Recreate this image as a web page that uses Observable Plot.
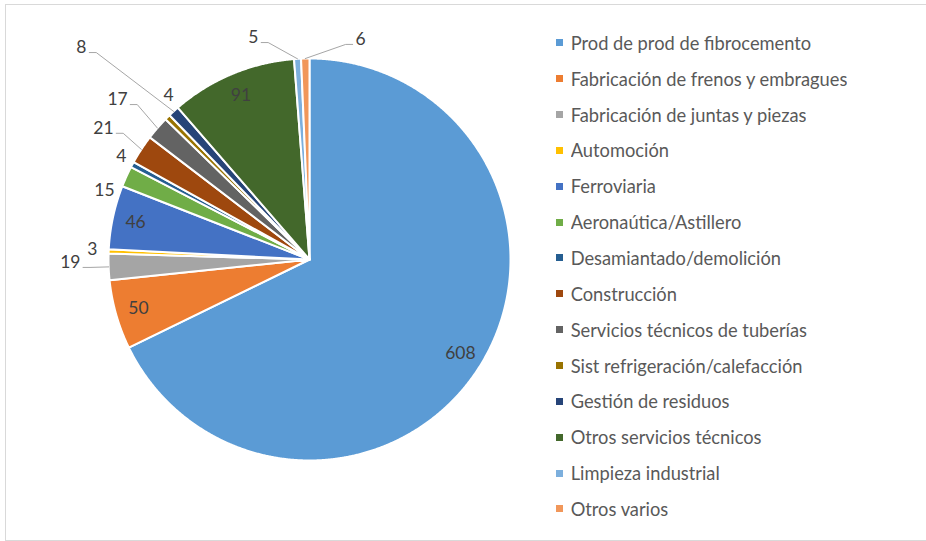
<!DOCTYPE html>
<html><head><meta charset="utf-8">
<script src="https://cdn.jsdelivr.net/npm/d3@7"></script>
<script src="https://cdn.jsdelivr.net/npm/@observablehq/plot@0.6"></script>
<style>
html,body{margin:0;padding:0;background:#fff;overflow:hidden;width:926px;height:541px;}
#frame{position:absolute;left:5px;top:4px;width:940px;height:537px;border:1px solid #d9d9d9;box-sizing:border-box;}
#chart{position:absolute;left:0;top:0;}
#legend{position:absolute;left:556px;top:25px;}
.lg-swatches{font-family:Lato, sans-serif !important;font-size:18.3px !important;color:#595959;margin:0 !important;}
.lg-swatches .lg-swatch{height:35.85px;padding:0 !important;margin:0 !important;display:flex;align-items:center;}
.lg-swatches .lg-swatch > svg{margin-right:7.7px !important;}
</style></head><body>
<div id="frame"></div><div id="chart"></div><div id="legend"></div>
<script>
// ---- data ----
const categories = [
  "Prod de prod de fibrocemento",
  "Fabricación de frenos y embragues",
  "Fabricación de juntas y piezas",
  "Automoción",
  "Ferroviaria",
  "Aeronaútica/Astillero",
  "Desamiantado/demolición",
  "Construcción",
  "Servicios técnicos de tuberías",
  "Sist refrigeración/calefacción",
  "Gestión de residuos",
  "Otros servicios técnicos",
  "Limpieza industrial",
  "Otros varios"
];
const values = [608, 50, 19, 3, 46, 15, 4, 21, 17, 4, 8, 91, 5, 6];
const colors = ["#5B9BD5","#ED7D31","#A5A5A5","#FFC000","#4472C4","#70AD47","#255E91",
                "#9E480E","#636363","#997300","#264478","#43682B","#7CAFDD","#F1975A"];

// ---- layout ----
const W = 926, H = 541;
const CX = 309, CY = 259, R = 201;           // pie centre and radius (px)
const insideThreshold = 40;                   // larger slices get their label inside
const insideRadius = 0.885;
// outside label placement: [angle (deg, clockwise from top), radius (pie radii)]
const outsideLabel = {
  2: [269.3, 1.19], 3: [272.6, 1.081], 5: [288.6, 1.076], 6: [298.7, 1.067],
  7: [302.5, 1.215], 8: [309.8, 1.243], 9: [319.3, 1.076], 10: [312.9, 1.549],
  12: [345.8, 1.139], 13: [13.05, 1.124]
};
const withLeader = [2, 7, 8, 10, 12, 13];
const digitW = 9.7;

const arcs = d3.pie().sort(null).value(d => d)(values);
const slices = arcs.map((a, i) => ({name: categories[i], value: values[i], a0: a.startAngle, a1: a.endAngle}));

// slice outlines (in pie units)
const outline = [];
for (const s of slices) {
  outline.push({name: s.name, x: 0, y: 0});
  const n = Math.max(2, Math.ceil((s.a1 - s.a0) / (Math.PI / 720)));
  for (let k = 0; k <= n; k++) {
    const t = s.a0 + (s.a1 - s.a0) * k / n;
    outline.push({name: s.name, x: Math.sin(t), y: Math.cos(t)});
  }
  outline.push({name: s.name, x: 0, y: 0});
}

// labels
const labels = slices.map((s, i) => {
  const mid = (s.a0 + s.a1) / 2;
  if (s.value > insideThreshold) {
    return {i, text: String(s.value), x: insideRadius * Math.sin(mid), y: insideRadius * Math.cos(mid)};
  }
  const [deg, r] = outsideLabel[i];
  const t = deg * Math.PI / 180;
  return {i, text: String(s.value), x: r * Math.sin(t), y: r * Math.cos(t)};
});

// leader lines
const leaders = [];
for (const i of withLeader) {
  const s = slices[i], L = labels[i];
  const mid = (s.a0 + s.a1) / 2;
  const ex = Math.sin(mid), ey = Math.cos(mid);
  const hw = L.text.length * digitW / 2 / R;
  const dir = L.x < ex ? 1 : -1;
  const sx = L.x + dir * (hw + 3 / R), sy = L.y - 5 / R;
  leaders.push({id: i, x: sx, y: sy});
  leaders.push({id: i, x: sx + dir * 7 / R, y: sy});
  leaders.push({id: i, x: ex, y: ey});
}

const plot = Plot.plot({
  width: W, height: H,
  margin: 0,
  x: {domain: [-CX / R, (W - CX) / R], axis: null},
  y: {domain: [-(H - CY) / R, CY / R], axis: null},
  color: {domain: categories, range: colors},
  style: {fontFamily: "Lato, sans-serif", background: "transparent"},
  marks: [
    Plot.line(outline, {x: "x", y: "y", z: "name", fill: "name", stroke: "white", strokeWidth: 2, strokeLinejoin: "round"}),
    Plot.line(leaders, {x: "x", y: "y", z: "id", stroke: "#a6a6a6", strokeWidth: 1}),
    Plot.text(labels, {x: "x", y: "y", text: "text", fill: "#404040", fontSize: 17.5})
  ]
});
document.getElementById("chart").appendChild(plot);

const legend = plot.legend("color", {legend: "swatches", columns: 1, swatchSize: 7, className: "lg"});
document.getElementById("legend").appendChild(legend);
</script>
</body></html>
